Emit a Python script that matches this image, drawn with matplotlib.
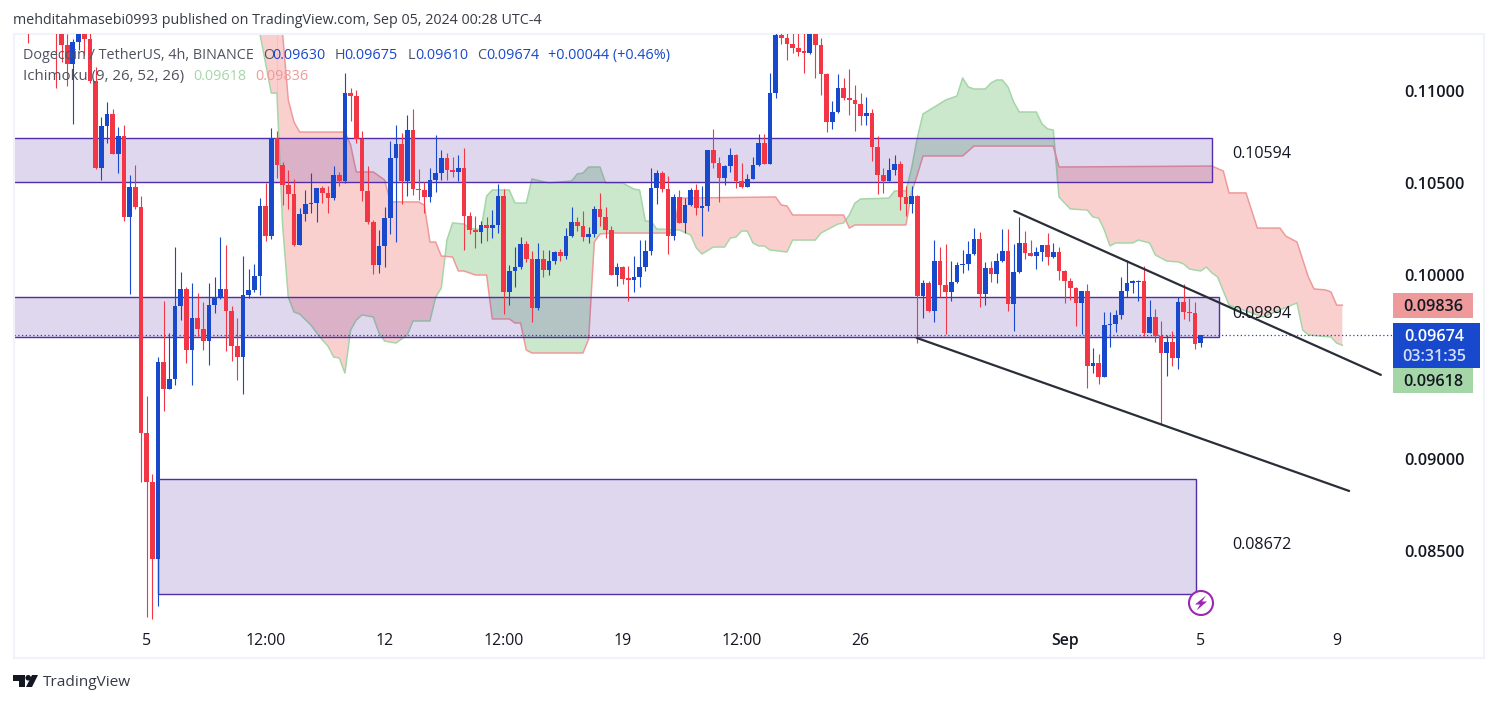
import numpy as np
import matplotlib
matplotlib.use('Agg')
import matplotlib.pyplot as plt
from matplotlib.patches import Rectangle, Circle, Polygon
from matplotlib.transforms import Affine2D

plt.rcParams['font.family'] = ['Open Sans', 'DejaVu Sans']

# ---------- data (prices in units of 0.00001 USDT) ----------
first_bar = -21          # bar index relative to the Aug 5 00:00 candle
first_open = 11413
closes = [11359,11386,11413,11397,11386,11342,11250,11147,11266,11332,11283,11054,10582,10810,10875,10658,10755,10315,10478,10370,9141,
 8875,8456,9527,9381,9435,9831,9924,9592,9766,9706,9641,9837,9880,9924,9804,9614,9554,9891,9919,9995,10375,
 10212,10745,10598,10489,10440,10163,10332,10386,10391,10473,10446,10418,10544,10511,10989,10973,10739,10457,10288,10054,10158,
 10310,10636,10712,10511,10788,10467,10462,10424,10516,10554,10636,10571,10560,10582,10321,10245,10234,10272,10255,10272,10429,
 9908,10022,10043,10168,10087,9821,10087,10027,10076,10125,10103,10212,10288,10266,10206,10223,10359,10315,10245,10000,10043,
 9978,9973,9989,10043,10130,10473,10554,10467,10212,10424,10283,10380,10462,10364,10375,10679,10609,10527,10592,10652,10511,
 10478,10522,10598,10717,10603,10989,11304,11288,11255,11234,11212,11207,11332,11250,11092,10832,10886,11016,10962,10951,10929,
 10864,10880,10696,10544,10511,10571,10603,10424,10386,10429,9886,9957,9804,10076,9946,9908,9962,10054,10060,10114,10196,
 9897,10038,10005,10076,10130,9842,10016,10174,10120,10103,10125,10163,10098,10125,10022,9967,9929,9848,9913,9505,9522,
 9446,9728,9734,9783,9913,9957,9962,9967,9685,9772,9668,9576,9636,9549,9853,9799,9793,9625,9674]
highs = [11467,11440,11467,11451,11440,11429,11413,11310,11283,11359,11359,11332,11130,10859,10940,10902,10804,10815,10544,10598,10429,
 9342,8918,9554,9859,9685,10152,10016,9935,9957,9902,9853,9957,9989,10206,10163,9831,9766,10103,10033,10060,10418,
 10500,10799,10783,10614,10571,10522,10364,10462,10554,10473,10484,10484,10592,10560,11098,11016,11005,10783,10592,10299,10245,
 10370,10728,10815,10772,10870,10902,10576,10505,10582,10761,10679,10663,10641,10652,10690,10342,10321,10293,10315,10353,10495,
 10467,10054,10152,10206,10185,10130,10174,10136,10136,10130,10141,10255,10370,10315,10348,10261,10375,10446,10370,10266,10065,
 10049,10049,10103,10190,10190,10582,10571,10565,10538,10440,10462,10418,10473,10495,10484,10679,10794,10641,10598,10690,10658,
 10609,10549,10641,10766,10766,11098,11386,11359,11359,11359,11359,11359,11359,11359,11288,11098,10946,11092,11071,11120,11033,
 10989,10967,10902,10755,10582,10636,10652,10620,10484,10484,10435,9973,9967,10190,10152,10168,10076,10071,10136,10185,10255,
 10234,10071,10076,10120,10250,10250,10168,10315,10239,10190,10152,10163,10228,10174,10152,10027,9984,9935,9913,9951,9603,
 9571,9799,9799,9810,9989,10082,9973,9973,10049,9864,9815,9750,9674,9696,9880,9951,9875,9853,9675]
lows = [11261,11342,11359,11359,11332,11016,11158,11027,10821,11223,11196,11044,10576,10516,10717,10658,10554,10293,9897,10359,8875,
 8141,8130,8201,9261,9381,9402,9755,9522,9402,9668,9592,9511,9793,9870,9587,9533,9429,9353,9875,9908,9891,
 10185,10196,10527,10380,10359,10158,10163,10293,10337,10288,10391,10337,10408,10484,10500,10837,10717,10402,10277,10005,10011,
 10043,10223,10179,10386,10429,10435,10408,10337,10397,10451,10516,10516,10533,10511,10136,10223,10147,10174,10185,10201,10228,
 9788,9837,9935,10033,10071,9745,9810,9989,10000,10060,10076,10087,10206,10239,10185,10174,10206,10266,10201,10000,9940,
 9951,9859,9908,9935,10022,10109,10386,10451,10114,10190,10283,10228,10375,10326,10212,10348,10582,10397,10489,10560,10473,
 10473,10478,10522,10592,10603,10603,10962,11255,11168,11207,11190,11098,11201,11071,10978,10777,10794,10880,10951,10870,10783,
 10815,10815,10620,10440,10446,10511,10544,10353,10321,10337,9630,9766,9799,9745,9880,9679,9859,9957,10011,10027,10109,
 9826,9837,9962,9957,10071,9804,9696,10011,10087,10103,10033,10076,10054,10092,9973,9848,9864,9723,9679,9386,9467,
 9408,9446,9609,9690,9761,9880,9902,9859,9668,9685,9636,9185,9451,9505,9489,9761,9750,9598,9610]
last_open = 9630

span_a_bar = [19,20,21,22,23,24,25,26,27,29,30,31,32,33,34,35,36,37,38,40,41,42,44,46,47,50,51,52,53,54,56,57,59,60,61,64,65,67,68,71,75,76,77,78,80,81,84,86,87,88,89,90,94,96,97,98,100,102,103,104,105,106,107,108,109,110,113,114,118,119,122,123,124,125,126,131,132,134,135,136,137,139,141,143,144,145,146,148,149,150,151,152,153,154,157,158,159,160,161,163,166,167,168,169,170,171,174,175,177,178,180,182,183,184,185,186,187,188,189,191,197,203,204,205,209,210,211]
span_a = [11386,11310,11152,10989,10989,10272,9880,9799,9788,9728,9685,9647,9614,9554,9549,9467,9701,9755,9783,9772,9685,9641,9630,9674,9750,9750,9880,9929,10190,10283,10277,10255,10245,10429,10462,10462,10391,10391,10522,10500,10511,10549,10554,10587,10587,10500,10500,10467,10462,10293,10293,10250,10245,10217,10147,10114,10152,10152,10201,10206,10239,10239,10174,10158,10158,10136,10125,10190,10190,10228,10277,10283,10326,10391,10413,10418,10457,10457,10582,10745,10875,10913,10951,10973,11071,11022,11011,11011,11044,11060,11060,11022,10940,10886,10886,10821,10794,10788,10424,10359,10353,10315,10310,10245,10158,10174,10174,10190,10174,10109,10076,10071,10060,10033,10027,10022,10043,10011,9989,9837,9772,9848,9701,9674,9663,9630,9618]
span_b_bar = [23,24,25,26,27,35,36,37,40,42,43,48,49,50,51,52,54,55,56,58,60,61,64,65,66,67,68,77,78,79,80,82,93,94,111,112,113,114,123,124,125,134,135,136,137,144,146,160,161,188,190,191,194,196,200,201,203,205,206,208,209,210,211]
span_b = [11386,11310,10951,10832,10777,10777,10707,10560,10560,10516,10397,10397,10380,10179,10179,10103,10098,10022,10022,10000,10000,9761,9761,9739,9739,9592,9576,9576,9652,10179,10223,10228,10228,10418,10424,10380,10375,10326,10326,10255,10272,10272,10451,10544,10647,10647,10701,10701,10587,10592,10565,10446,10446,10255,10255,10212,10179,9989,9924,9919,9908,9836,9836]

zones = [(-30, 188.0, 0.10505, 0.10745), (-30, 189.2, 0.09663, 0.09880), (2.0, 185.2, 0.08266, 0.08891)]
zone_labels = [(191.5, 0.10658, '0.10594'), (191.5, 0.09788, '0.09894'), (191.5, 0.08533, '0.08672')]
trendlines = [((153.1, 217.8), (0.10348, 0.09457)), ((135.9, 212.2), (0.09658, 0.08826))]

price_ticks = [0.085, 0.09, 0.10, 0.105, 0.11]
time_ticks = [0, 21, 42, 63, 84, 105, 126, 162, 186, 210]
time_labels = ['5', '12:00', '12', '12:00', '19', '12:00', '26', 'Sep', '5', '9']

header = 'mehditahmasebi0993 published on TradingView.com, Sep 05, 2024 00:28 UTC-4'
last_price, span_a_last, span_b_last = 0.09674, 0.09618, 0.09836

# ---------- styles ----------
UP, DOWN = '#1848CC', '#F23645'
PURPLE = '#512DA8'
GREY = '#50535E'
INK = '#131722'

W, H = 1497, 703
fig = plt.figure(figsize=(W/100, H/100), dpi=100, facecolor='white')
L, R, T, B = 14, 1484, 34, 658
ax = fig.add_axes([L/W, 1-B/H, (R-L)/W, (B-T)/H])
ax.set_xlim(-23.40, 236.0)
ax.set_ylim(0.07918, 0.11310)
px = Affine2D().scale(1, -1).translate(0, H)

# cloud
ka, a = np.array(span_a_bar), np.array(span_a)/1e5
kb, b = np.array(span_b_bar), np.array(span_b)/1e5
grid = np.union1d(ka, kb)
grid = grid[grid >= kb[0]]
ga, gb = np.interp(grid, ka, a), np.interp(grid, kb, b)
ax.fill_between(grid, ga, gb, where=ga >= gb, interpolate=True, color='#4CAF50', alpha=0.29, lw=0, zorder=1)
ax.fill_between(grid, ga, gb, where=ga <= gb, interpolate=True, color='#EF5350', alpha=0.27, lw=0, zorder=1)
# part of the cloud left of the first visible Senkou B point
left = ka <= kb[0]
ax.fill_between(ka[left], a[left], b[0], color='#EF5350', alpha=0.27, lw=0, zorder=1)
ax.plot(ka, a, color='#A5D6A7', lw=1.1, zorder=1.5)
ax.plot(kb, b, color='#EF9A9A', lw=1.1, zorder=1.5)

# zones
for x0, x1, y0, y1 in zones:
    ax.add_patch(Rectangle((x0, y0), x1-x0, y1-y0, facecolor=PURPLE, alpha=0.19, lw=0, zorder=2))
    ax.add_patch(Rectangle((x0, y0), x1-x0, y1-y0, facecolor='none', edgecolor=PURPLE, lw=1.0, zorder=2.1))
for x, y, s in zone_labels:
    ax.text(x, y, s, fontsize=11.6, color=INK, va='center', ha='left', zorder=6)

# last price line
ax.hlines(last_price, -30, 219.9, color=UP, lw=0.9, linestyles=(0, (1, 2)), zorder=2.5)

# candles
c = np.array(closes)/1e5
o = np.r_[first_open/1e5, c[:-1]]
o[-1] = last_open/1e5
h = np.array(highs)/1e5
l = np.array(lows)/1e5
k = first_bar + np.arange(len(c))
col = np.where(c >= o, UP, DOWN)
ax.vlines(k, l, h, colors=col, lw=0.8, zorder=3)
ax.bar(k, np.maximum(np.abs(c-o), 0.00008), bottom=np.minimum(c, o), width=0.86, color=col, lw=0, zorder=3.2)

# trend lines
for xs, ys in trendlines:
    ax.plot(xs, ys, color='#2A2E39', lw=1.6, solid_capstyle='round', zorder=4)

# axes
for s in ax.spines.values():
    s.set_color('#F0F3FA')
    s.set_linewidth(1.5)
ax.yaxis.tick_right()
ax.set_yticks(price_ticks, [f'{v:.5f}' for v in price_ticks])
ax.tick_params(axis='y', length=0, pad=-57.5, labelsize=11.6, labelcolor=INK)
ax.set_xticks(time_ticks, time_labels)
ax.tick_params(axis='x', length=0, pad=-17.8, labelsize=11.4, labelcolor=INK)
for t, s in zip(ax.get_xticklabels(), time_labels):
    t.set_zorder(6)
    if s == 'Sep':
        t.set_fontweight('semibold')
for t in ax.get_yticklabels():
    t.set_ha('left')
    t.set_fontweight('semibold')

# header and legends (pixel placed)
def T_(x, y, s, color=GREY, size=10.4, **kw):
    fig.text(x, y, s, color=color, fontsize=size, va='center', ha=kw.pop('ha', 'left'), transform=px, zorder=10, **kw)

T_(13, 21, header, '#363A45', 10.3)
T_(23, 55.5, 'Dogecoin / TetherUS, 4h, BINANCE', GREY)
for x, s, cc in [(263, 'O', GREY), (272, '0.09630', UP), (335, 'H', GREY), (344, '0.09675', UP), (408, 'L', GREY),
                 (415, '0.09610', UP), (477, 'C', GREY), (486, '0.09674', UP), (548, '+0.00044 (+0.46%)', UP)]:
    T_(x, 55.5, s, cc)
T_(23, 76.5, 'Ichimoku (9, 26, 52, 26)', GREY, 10.8)
T_(193, 76.5, f'{span_a_last:.5f}', '#A5D6A7')
T_(255, 76.5, f'{span_b_last:.5f}', '#EF9A9A')

# price boxes
for x0, y0, x1, y1, fc in [(1393, 293, 1473, 318, '#EF9A9A'), (1393, 323, 1480, 368, '#1848CC'), (1393, 368, 1473, 393, '#A5D6A7')]:
    fig.add_artist(Rectangle((x0, y0), x1-x0, y1-y0, facecolor=fc, lw=0, transform=px, zorder=9))
T_(1433, 307, f'{span_b_last:.5f}', INK, 11.6, ha='center', fontweight='semibold')
T_(1434, 337, f'{last_price:.5f}', 'white', 11.6, ha='center', fontweight='semibold')
T_(1434, 357, '03:31:35', '#D5DEF7', 11.6, ha='center', fontweight='semibold')
T_(1433, 382, f'{span_a_last:.5f}', INK, 11.6, ha='center', fontweight='semibold')

# event icon
fig.add_artist(Circle((1201, 603), 12, facecolor='white', edgecolor='#9C27B0', lw=1.5, transform=px, zorder=9))
fig.add_artist(Polygon([(1206, 595.5), (1195, 604.5), (1200, 604.5), (1196.5, 610.5), (1207, 601.5), (1202, 601.5)],
                       closed=True, facecolor='#9C27B0', lw=0, transform=px, zorder=9.5))

# logo
for pts in [[(13, 675), (24.5, 675), (24.5, 687), (18.5, 687), (18.5, 680.5), (13, 680.5)],
            [(32, 675), (38, 675), (32, 687), (26, 687)]]:
    fig.add_artist(Polygon(pts, closed=True, facecolor='#131722', lw=0, transform=px, zorder=9))
fig.add_artist(Circle((28.2, 677.8), 2.8, facecolor='#131722', lw=0, transform=px, zorder=9))
T_(43, 682, 'TradingView', '#363A45', 11.1)

fig.savefig('out.png', dpi=100, facecolor='white')
